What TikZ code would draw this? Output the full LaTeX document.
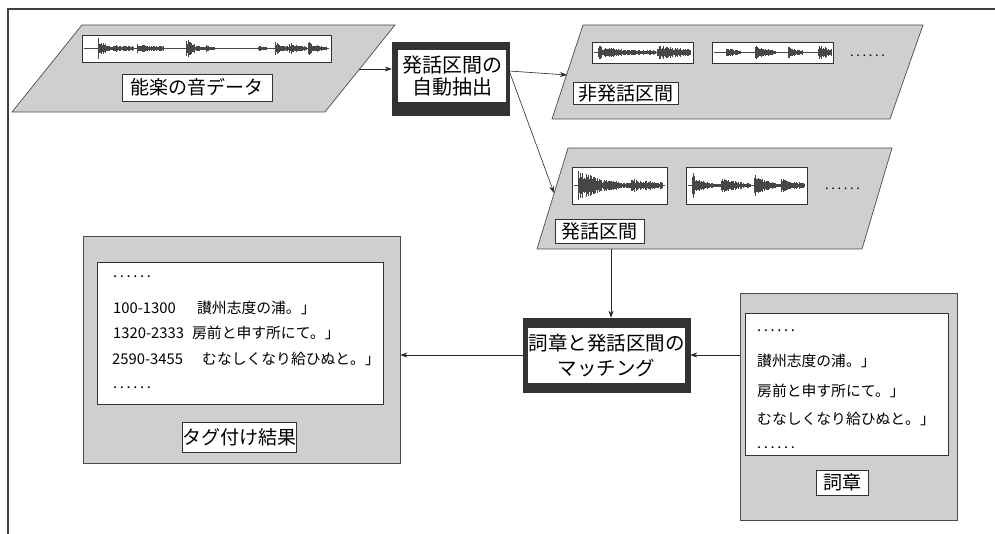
\documentclass[tikz,border=0pt]{standalone}
\usepackage{fontspec}
\setmainfont{Noto Sans CJK JP}
\usetikzlibrary{arrows.meta,calc}

\newcommand\wvburst[5]{%
  \foreach \i in {#1,...,#2}{%
    \pgfmathsetmacro\wa{#4*exp(-(\i-#1)/#5)*(0.35+0.65*rnd)+0.8}%
    \draw[wave] (\i,#3-\wa) -- (\i,#3+\wa);
  }%
}
\newcommand\dd{.\hspace{2.6pt}.\hspace{2.6pt}.\hspace{2.6pt}.\hspace{2.6pt}.\hspace{2.6pt}.}

\tikzset{
  gshape/.style={fill=black!19, draw=black!70, line width=0.7pt},
  wbox/.style={fill=white, draw=black!80, line width=0.7pt},
  wavebox/.style={wbox, inner sep=0pt},
  wave/.style={line width=0.9pt, black!72},
  lab/.style={wbox, inner sep=0pt, font=\fontsize{19}{22}\selectfont},
  darkbox/.style={fill=black!80, draw=black!80, inner sep=0pt},
  whitein/.style={fill=white, draw=none, inner sep=0pt, align=center},
  itext/.style={inner sep=0pt, anchor=base west, font=\fontsize{14.8}{17}\selectfont},
  arr/.style={-{Stealth[length=7pt,width=5pt]}, line width=0.6pt, black!85},
}

\begin{document}
\begin{tikzpicture}[x=1pt,y=-1pt]
\useasboundingbox (0,0) rectangle (995,534);
\pgfmathsetseed{7}

% frame
\draw[line width=1.5pt, black!75] (8,534) -- (8,9) -- (995,9);

% ---------- P1 : 能楽の音データ ----------
\draw[gshape] (82,25) -- (395,25) -- (325,112) -- (12,112) -- cycle;
\node[wavebox, minimum width=249pt, minimum height=27pt] (w1) at (206.5,48.5) {};
\draw[wave] (84,48.5) -- (329,48.5);
\wvburst{98}{112}{48.5}{11}{6}
\wvburst{113}{133}{48.5}{3.5}{20}
\wvburst{137}{163}{48.5}{3.5}{30}
\wvburst{186}{205}{48.5}{11}{7}
\wvburst{206}{214}{48.5}{2.5}{10}
\wvburst{258}{266}{48.5}{2}{10}
\wvburst{275}{288}{48.5}{6.5}{10}
\wvburst{289}{306}{48.5}{5.5}{15}
\wvburst{308}{326}{48.5}{6.5}{10}
\node[lab, minimum width=150pt, minimum height=27pt] (l1) at (197,87.5) {能楽の音データ};
\coordinate (p1out) at (359,69);

% ---------- box 1 : 発話区間の自動抽出 ----------
\node[darkbox, minimum width=117pt, minimum height=73pt] (box1) at (450.5,78.5) {};
\node[whitein, minimum width=108pt, minimum height=52pt,
      font=\fontsize{20}{22}\selectfont] (box1in) at (452,76) {発話区間の\\自動抽出};

% ---------- P2 : 非発話区間 ----------
\draw[gshape] (583,25) -- (923,25) -- (890,119) -- (552,119) -- cycle;
\node[wavebox, minimum width=101pt, minimum height=21pt] (w2a) at (642.5,52.5) {};
\draw[wave] (594,52.5) -- (691,52.5);
\wvburst{598}{625}{52.5}{7}{25}
\wvburst{626}{655}{52.5}{2.5}{40}
\wvburst{657}{690}{52.5}{6.5}{40}
\node[wavebox, minimum width=121pt, minimum height=21pt] (w2b) at (772.5,52.5) {};
\draw[wave] (714,52.5) -- (831,52.5);
\wvburst{726}{740}{52.5}{5.5}{10}
\wvburst{755}{775}{52.5}{6.5}{15}
\wvburst{788}{802}{52.5}{5.5}{10}
\wvburst{818}{831}{52.5}{6.5}{20}
\node[inner sep=0pt, anchor=base west, font=\fontsize{13}{15}\selectfont] (d2) at (850,57) {\dd};
\node[lab, minimum width=105pt, minimum height=22pt] (l2) at (625.5,93) {非発話区間};
\coordinate (p2in) at (567,75);

% ---------- P3 : 発話区間 ----------
\draw[gshape] (568,148) -- (892,148) -- (862,249) -- (537,249) -- cycle;
\node[wavebox, minimum width=95pt, minimum height=37pt] (w3a) at (619.5,185.5) {};
\draw[wave] (574,185.5) -- (665,185.5);
\wvburst{578}{630}{185.5}{16}{25}
\wvburst{631}{662}{185.5}{6.5}{30}
\node[wavebox, minimum width=121pt, minimum height=37pt] (w3b) at (746.5,185.5) {};
\draw[wave] (688,185.5) -- (805,185.5);
\wvburst{692}{720}{185.5}{15}{10}
\wvburst{721}{750}{185.5}{9}{15}
\wvburst{754}{780}{185.5}{15}{10}
\wvburst{781}{804}{185.5}{6.5}{20}
\node[inner sep=0pt, anchor=base west, font=\fontsize{13}{15}\selectfont] (d3) at (825,190) {\dd};
\node[lab, minimum width=89pt, minimum height=24pt] (l3) at (599.5,231) {発話区間};
\coordinate (p3in) at (554,193);
\coordinate (p3out) at (611,249);

% ---------- match box ----------
\node[darkbox, minimum width=167pt, minimum height=74pt] (match) at (606.5,355) {};
\node[whitein, minimum width=157pt, minimum height=55pt,
      font=\fontsize{19.5}{25}\selectfont] (matchin) at (606.5,355.5) {詞章と発話区間の\\マッチング};

% ---------- left box : タグ付け結果 ----------
\node[gshape, inner sep=0pt, minimum width=317pt, minimum height=227pt] (lbox) at (241.5,349.5) {};
\node[wbox, inner sep=0pt, minimum width=286pt, minimum height=142pt] (lboxin) at (240,333) {};
\node[itext] (lt1) at (113,278) {\dd};
\node[itext] (lt2) at (113,313) {\makebox[84pt][l]{100-1300}讃州志度の浦。」};
\node[itext] (lt3) at (113,338) {\makebox[79pt][l]{1320-2333}房前と申す所にて。」};
\node[itext] (lt4) at (112,364) {\makebox[90pt][l]{2590-3455}むなしくなり給ひぬと。」};
\node[itext] (lt5) at (113,388) {\dd};
\node[lab, minimum width=114pt, minimum height=30pt] (l4) at (239,437) {タグ付け結果};

% ---------- right box : 詞章 ----------
\node[gshape, inner sep=0pt, minimum width=217pt, minimum height=227pt] (rbox) at (848.5,406.5) {};
\node[wbox, inner sep=0pt, minimum width=203pt, minimum height=142pt] (rboxin) at (846.5,384) {};
\node[itext] (rt1) at (757,331) {\dd};
\node[itext] (rt2) at (757,366) {讃州志度の浦。」};
\node[itext] (rt3) at (757,396) {房前と申す所にて。」};
\node[itext] (rt4) at (757,424) {むなしくなり給ひぬと。」};
\node[itext] (rt5) at (757,448) {\dd};
\node[lab, minimum width=52pt, minimum height=25pt] (l5) at (842,482.5) {詞章};

% ---------- connectors ----------
\draw[arr] (p1out) -- (p1out -| box1.west);
\coordinate (b1o) at ($(box1.east)+(0,-7.5)$);
\draw[arr] (b1o) -- (p2in);
\draw[arr] (b1o) -- (p3in);
\draw[arr] (p3out) -- (p3out |- match.north);
\draw[arr] (match.east -| rbox.west) -- (match.east);
\draw[arr] (match.west) -- (match.west -| lbox.east);
\end{tikzpicture}
\end{document}
